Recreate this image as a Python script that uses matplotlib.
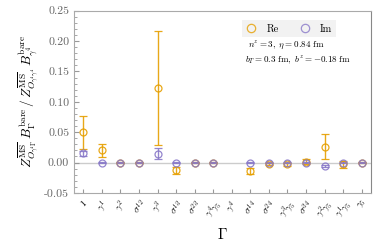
import matplotlib
matplotlib.use("Agg")
import matplotlib.pyplot as plt
from matplotlib.lines import Line2D
import numpy as np

plt.rcParams['mathtext.fontset'] = 'cm'
plt.rcParams['font.family'] = 'serif'
plt.rcParams['font.serif'] = ['cmr10', 'DejaVu Serif']
plt.rcParams['axes.formatter.use_mathtext'] = True

# operator labels (gamma^4 itself is the normalisation, no point)
gammas = [r'$1$', r'$\gamma^1$', r'$\gamma^2$', r'$\sigma^{12}$', r'$\gamma^3$',
          r'$\sigma^{13}$', r'$\sigma^{23}$', r'$\gamma^4\gamma_5$', r'$\gamma^4$',
          r'$\sigma^{14}$', r'$\sigma^{24}$', r'$\gamma^3\gamma_5$', r'$\sigma^{34}$',
          r'$\gamma^2\gamma_5$', r'$\gamma^1\gamma_5$', r'$\gamma_5$']

re_val = [0.050, 0.020, 0.0, 0.0, 0.123, -0.013, 0.0, 0.0, np.nan,
          -0.014, -0.0023, -0.003, 0.0015, 0.026, -0.003, 0.0]
re_err = [0.027, 0.011, 0.0005, 0.0005, 0.094, 0.006, 0.0005, 0.0005, np.nan,
          0.0055, 0.002, 0.002, 0.0045, 0.0206, 0.006, 0.0005]
im_val = [0.015, 0.0, 0.0, 0.0, 0.0145, 0.0, 0.0, 0.0, np.nan,
          0.0, 0.0, 0.0, 0.0, -0.0056, 0.0, 0.0]
im_err = [0.004, 0.0005, 0.0005, 0.0005, 0.009, 0.0005, 0.0005, 0.0005, np.nan,
          0.0005, 0.0005, 0.0005, 0.0005, 0.002, 0.0005, 0.0005]

orange = '#E69F00'
purple = '#8878C8'

fig = plt.figure(figsize=(3.82, 2.48), dpi=100)
ax = fig.add_axes([0.194, 0.222, 0.777, 0.735])

x = np.arange(len(gammas))
ax.axhline(0, color='#cccccc', lw=1, zorder=0)
ax.errorbar(x, re_val, yerr=re_err, fmt='o', mfc='none', mec=orange, ecolor=orange,
            ms=5, mew=0.9, elinewidth=1, capsize=3, capthick=1, alpha=0.9)
ax.errorbar(x, im_val, yerr=im_err, fmt='o', mfc='none', mec=purple, ecolor=purple,
            ms=5, mew=0.9, elinewidth=1, capsize=3, capthick=1, alpha=0.9)

ax.set_xlim(-0.5, 15.5)
ax.set_ylim(-0.05, 0.25)
ax.set_xticks(x)
ax.set_xticklabels(gammas, rotation=45, fontsize=6.5)
ax.set_yticks(np.arange(-0.05, 0.2501, 0.05))
ax.yaxis.set_major_formatter(matplotlib.ticker.FormatStrFormatter('%.2f'))
ax.yaxis.set_minor_locator(matplotlib.ticker.AutoMinorLocator(5))
ax.tick_params(axis='y', which='both', direction='in', labelsize=8.5, labelcolor='#666666',
               color='#999999')
ax.tick_params(axis='x', direction='in', color='#999999', length=3)
for s in ['left', 'top', 'bottom']:
    ax.spines[s].set_color('#aaaaaa')
ax.spines['right'].set_color('#888888')

ax.set_xlabel(r'$\Gamma$', fontsize=11)
ax.set_ylabel(r'$Z^{\overline{\rm MS}}_{O_{\gamma^4\Gamma}}\,B^{\rm bare}_{\Gamma}\,/\,'
              r'Z^{\overline{\rm MS}}_{O_{\gamma^4\gamma^4}}\,B^{\rm bare}_{\gamma^4}$',
              fontsize=9.5, labelpad=2)

handles = [Line2D([], [], ls='none', marker='o', ms=6, mfc='none', mec=orange, mew=0.9, alpha=0.8),
           Line2D([], [], ls='none', marker='o', ms=6, mfc='none', mec=purple, mew=0.9, alpha=0.8)]
ax.legend(handles, ['Re', 'Im'], loc='upper right', bbox_to_anchor=(0.9, 0.975), ncol=2,
          fontsize=7.5, frameon=True, facecolor='#f2f2f2', edgecolor='none', framealpha=1,
          handlelength=1.0, handletextpad=1.0, columnspacing=2.0, borderpad=0.35,
          fancybox=False)

ax.text(0.585, 0.80, r'$n^z=3,\ \eta=0.84\ {\rm fm}$', transform=ax.transAxes, fontsize=6.5)
ax.text(0.575, 0.715, r'$b_T=0.3\ {\rm fm},\ b^z=-0.18\ {\rm fm}$', transform=ax.transAxes,
        fontsize=6.5)

fig.savefig('out.png', dpi=100)
